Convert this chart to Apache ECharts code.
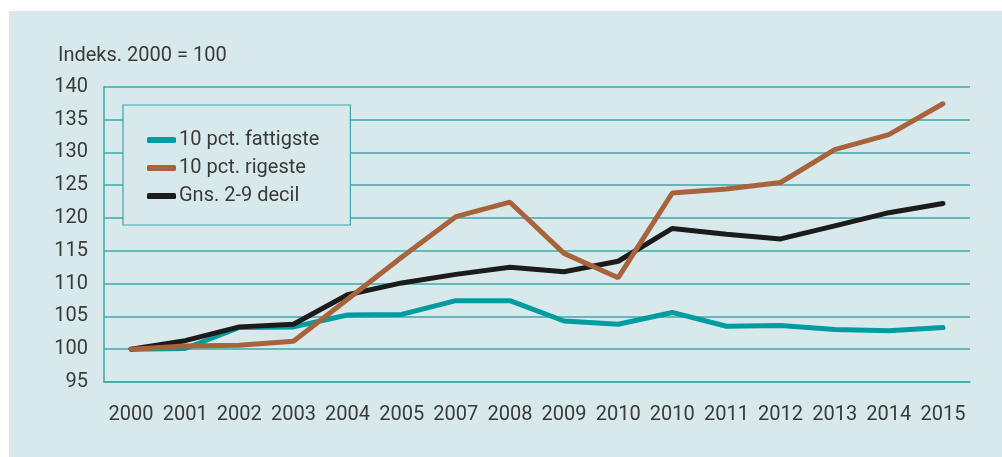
<!DOCTYPE html>
<html>
<head>
<meta charset="utf-8">
<script src="https://cdn.jsdelivr.net/npm/echarts@6/dist/echarts.min.js"></script>
<style>
html,body{margin:0;padding:0;background:#fff;}
#c{width:1002px;height:457px;}
</style>
</head>
<body>
<div id="c"></div>
<script>
const categories = ['2000','2001','2002','2003','2004','2005','2007','2008','2009','2010','2010','2011','2012','2013','2014','2015'];
const fattigste = [100, 100.1, 103.3, 103.4, 105.2, 105.3, 107.4, 107.4, 104.3, 103.8, 105.6, 103.5, 103.6, 103.0, 102.8, 103.3];
const rigeste   = [100, 100.5, 100.6, 101.2, 107.6, 114.0, 120.2, 122.4, 114.6, 110.9, 123.8, 124.4, 125.4, 130.4, 132.7, 137.4];
const decil     = [100, 101.3, 103.4, 103.8, 108.3, 110.1, 111.4, 112.5, 111.8, 113.4, 118.4, 117.5, 116.8, 118.8, 120.8, 122.2];
const seriesNames = ['10 pct. fattigste', '10 pct. rigeste', 'Gns. 2-9 decil'];
const yTitle = 'Indeks. 2000 = 100';

const TEAL = '#009ca0';
const BROWN = '#a8633d';
const BLACK = '#1b1b1b';
const GRID = '#3aa8ad';
const BG = '#d8e9ec';
const TXT = '#3a3a3a';
const FONT = 'Roboto';
const FS = 20;

const chart = echarts.init(document.getElementById('c'), null, {renderer:'canvas'});
chart.setOption({
  backgroundColor: '#ffffff',
  animation: false,
  textStyle: {fontFamily: FONT},
  graphic: [
    {type:'rect', z:-10, silent:true, shape:{x:9, y:11, width:993, height:446}, style:{fill:BG}},
    {type:'text', left:58, top:46, style:{text:yTitle, fontSize:FS, fontFamily:FONT, fill:TXT}}
  ],
  grid: {left:104, right:32, top:86.7, bottom:75, containLabel:false},
  legend: {
    orient:'vertical', left:123, top:105,
    data: seriesNames,
    backgroundColor: BG, borderColor: GRID, borderWidth: 1.2,
    padding:[25,31,19,24],
    itemGap: 8, itemWidth: 29, itemHeight: 6,
    icon: 'roundRect',
    textStyle: {fontSize:FS, color:TXT, fontFamily:FONT, lineHeight:20, padding:[0,0,0,-2]},
    z: 10
  },
  xAxis: {
    type:'category', data: categories, boundaryGap:true,
    axisLine:{show:true, lineStyle:{color:GRID, width:1.5}},
    axisTick:{show:false},
    axisLabel:{fontSize:FS, color:TXT, margin:23, interval:0, fontFamily:FONT},
    splitLine:{show:false}
  },
  yAxis: {
    type:'value', min:95, max:140, interval:5,
    axisLine:{show:true, lineStyle:{color:GRID, width:1.5}},
    axisTick:{show:false},
    axisLabel:{fontSize:FS, color:TXT, margin:16, fontFamily:FONT},
    splitLine:{show:true, lineStyle:{color:GRID, width:1.5}}
  },
  series: [
    {name:seriesNames[0], type:'line', data:fattigste, symbol:'none', z:2,
     itemStyle:{color:TEAL}, lineStyle:{color:TEAL, width:5, cap:'round'}},
    {name:seriesNames[1], type:'line', data:rigeste, symbol:'none', z:4,
     itemStyle:{color:BROWN}, lineStyle:{color:BROWN, width:5, cap:'round'}},
    {name:seriesNames[2], type:'line', data:decil, symbol:'none', z:3,
     itemStyle:{color:BLACK}, lineStyle:{color:BLACK, width:5, cap:'round'}}
  ]
});
</script>
</body>
</html>
